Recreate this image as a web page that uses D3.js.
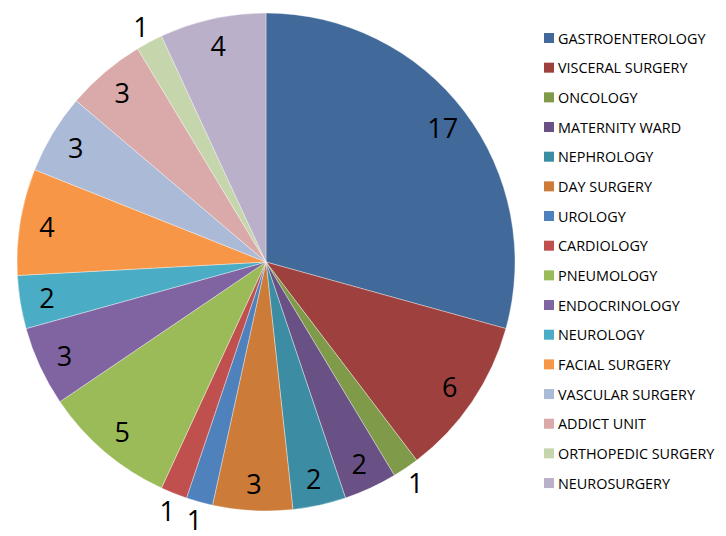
<!DOCTYPE html>
<html><head><meta charset="utf-8">
<script src="https://cdn.jsdelivr.net/npm/d3@7"></script>
<style>body{margin:0;background:#fff;} svg{display:block;}</style>
</head><body>
<svg id="c" width="726" height="536"></svg>
<script>
const categories = ["GASTROENTEROLOGY","VISCERAL SURGERY","ONCOLOGY","MATERNITY WARD","NEPHROLOGY","DAY SURGERY","UROLOGY","CARDIOLOGY","PNEUMOLOGY","ENDOCRINOLOGY","NEUROLOGY","FACIAL SURGERY","VASCULAR SURGERY","ADDICT UNIT","ORTHOPEDIC SURGERY","NEUROSURGERY"];
const values = [17,6,1,2,2,3,1,1,5,3,2,4,3,3,1,4];
const colors = ["#416A9B","#9E413E","#7F9A48","#695185","#3C8DA3","#CC7B38","#4F81BD","#C0504D","#9BBB59","#8064A2","#4BACC6","#F79646","#AABAD7","#D9AAA9","#C6D6AC","#BAB0C9"];

const svg = d3.select("#c");
const cx = 266, cy = 262, R = 249;
const font = "'Open Sans', 'Noto Sans', sans-serif";
const data = categories.map((c,i)=>({c, v: values[i], col: colors[i]}));
const pie = d3.pie().value(d=>d.v).sort(null);
const arcs = pie(data);
const arc = d3.arc().innerRadius(0).outerRadius(R);
const g = svg.append("g").attr("transform",`translate(${cx},${cy})`);
g.selectAll("path").data(arcs).join("path")
  .attr("d", arc).attr("fill", d=>d.data.col)
  .attr("stroke","#ffffff").attr("stroke-opacity",0.6).attr("stroke-width",0.6);

const inArc = d3.arc().innerRadius(222).outerRadius(222);
const outArc = d3.arc().innerRadius(267).outerRadius(267);
g.selectAll("text.lbl").data(arcs).join("text").attr("class","lbl")
  .attr("transform", d => `translate(${(d.data.v<=1?outArc:inArc).centroid(d)})`)
  .attr("text-anchor","middle").attr("dominant-baseline","central")
  .attr("font-family", font).attr("font-size", 27).attr("fill","#000")
  .text(d=>d.data.v);

const leg = svg.append("g");
const rowY = i => 38 + i*29.67;
leg.selectAll("rect").data(data).join("rect")
  .attr("x",544).attr("y",(d,i)=>rowY(i)-5).attr("width",10).attr("height",10)
  .attr("fill",d=>d.col);
leg.selectAll("text").data(data).join("text")
  .attr("x",558).attr("y",(d,i)=>rowY(i)).attr("dominant-baseline","central")
  .attr("font-family", font).attr("font-size",14.4).attr("fill","#000")
  .text(d=>d.c);
</script>
</body></html>
